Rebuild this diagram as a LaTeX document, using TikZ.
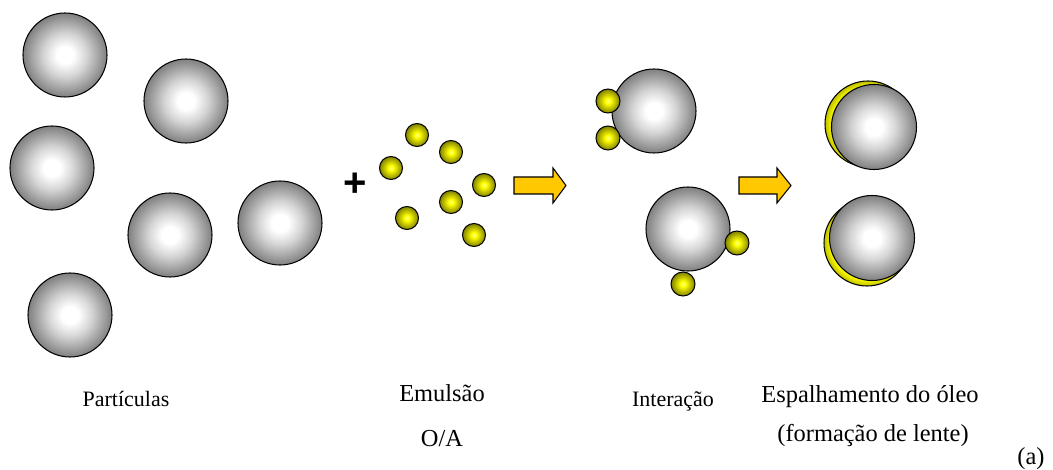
\documentclass[tikz,border=0pt]{standalone}
\usepackage{fontspec}
\setmainfont{Liberation Serif}
\newfontfamily\plusfont{Liberation Sans}

% shadings for the solid particles and the oil droplets
% (the path's box is mapped onto the inner 50bp square, so the rim sits at 25bp)
\pgfdeclareradialshading{pearl}{\pgfpoint{0bp}{0bp}}{%
  color(0bp)=(white); color(5bp)=(white); color(13bp)=(black!17); color(25bp)=(black!50); color(50bp)=(black!50)}
\pgfdeclareradialshading{droplet}{\pgfpoint{0bp}{0bp}}{%
  color(0bp)=(yellow!45!white); color(6bp)=(yellow); color(25bp)=(yellow!50!black); color(50bp)=(yellow!50!black)}
\pgfdeclareradialshading{oillens}{\pgfpoint{0bp}{0bp}}{%
  color(0bp)=(yellow); color(21bp)=(yellow); color(25bp)=(yellow!75!black); color(50bp)=(yellow!75!black)}
\definecolor{arrowfill}{RGB}{255,200,0}

\tikzset{
  particle/.style={draw=black, line width=0.6pt, shading=pearl},
  oil/.style={draw=black, line width=0.6pt, shading=droplet},
  lens/.style={draw=black, line width=0.6pt, shading=oillens},
  blockarrow/.style={draw=black, line width=0.6pt, fill=arrowfill},
  txtbig/.style={font=\fontsize{13.9}{16}\selectfont, anchor=base, inner sep=0pt},
  txtsmall/.style={font=\fontsize{12.5}{15}\selectfont, anchor=base, inner sep=0pt}
}

\begin{document}
\begin{tikzpicture}[x=0.2mm, y=-0.2mm]
    \useasboundingbox (0,0) rectangle (1053,470);

    % particles
    \foreach \p in {(65,55),(186,101),(52,168),(170,235),(280,223),(70,315)}
        \path[particle] \p circle (42);

    % emulsion O/A
    \node[font=\plusfont\bfseries\fontsize{22.8}{24}\selectfont, inner sep=0pt] (plus) at (355,185) {+};
    \foreach \p in {(417,135),(451,152),(391,168),(484,185),(451,202),(407,218),(474,235)}
        \path[oil] \p circle (11.5);

    \path[blockarrow] (514,177) -- (553,177) -- (553,168) -- (566,185.5)
        -- (553,203) -- (553,194) -- (514,194) -- cycle;

    % interaction: droplets sticking to the particles
    \path[particle] (654,111) circle (42);
    \path[particle] (688,229) circle (42);
    \foreach \p in {(608,101),(608,138),(737,243),(683,284)}
        \path[oil] \p circle (12);

    \path[blockarrow] (739,177) -- (777,177) -- (777,168) -- (791,185.5)
        -- (777,203) -- (777,194) -- (739,194) -- cycle;

    % oil spreading as a lens
    \path[lens] (868,124) circle (43);
    \path[particle] (874,127) circle (42.5);
    \path[lens] (867,243) circle (43);
    \path[particle] (872,238) circle (42.5);

    % captions
    \node[txtsmall] (particulas) at (126,406) {Partículas};
    \node[txtbig] (emulsao) at (442,402) {Emulsão};
    \node[txtbig] (oa) at (442,446) {O/A};
    \node[txtsmall] (interacao) at (673,406) {Interação};
    \node[txtbig] (espalhamento) at (870,403) {Espalhamento do óleo};
    \node[txtbig] (lente) at (873,442) {(formação de lente)};
    \node[txtbig] (a) at (1031,465) {(a)};
\end{tikzpicture}
\end{document}
